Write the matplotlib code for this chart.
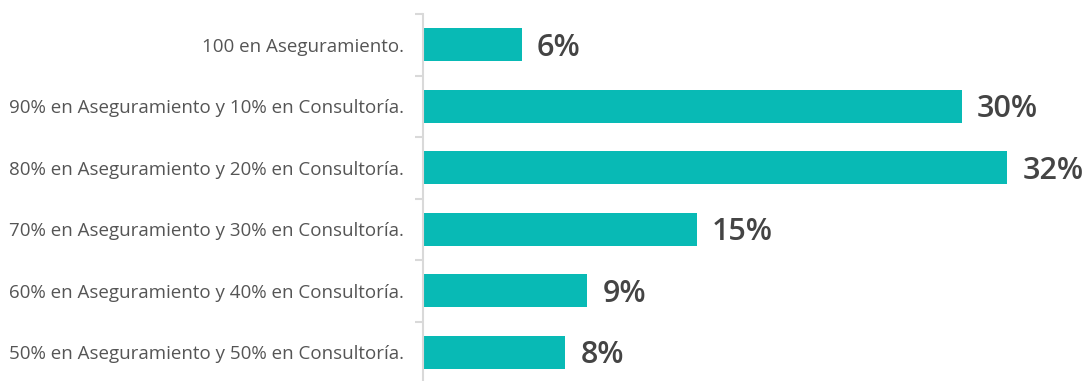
import matplotlib
matplotlib.use("Agg")
import matplotlib.pyplot as plt
import numpy as np

categories = [
    "100 en Aseguramiento.",
    "90% en Aseguramiento y 10% en Consultoría.",
    "80% en Aseguramiento y 20% en Consultoría.",
    "70% en Aseguramiento y 30% en Consultoría.",
    "60% en Aseguramiento y 40% en Consultoría.",
    "50% en Aseguramiento y 50% en Consultoría.",
]
values = [5.4, 29.5, 32.0, 15.0, 9.0, 7.8]
value_labels = ["6%", "30%", "32%", "15%", "9%", "8%"]

plt.rcParams["font.family"] = ["Open Sans", "DejaVu Sans"]

fig = plt.figure(figsize=(10.86, 3.81), dpi=100)
ax = fig.add_axes([423 / 1086, -2 / 381, 663 / 1086, 1 - 12 / 381])

y = np.arange(len(categories))
ax.barh(y, values, height=0.54, color="#08BAB5")

for yi, v, lab in zip(y, values, value_labels):
    ax.annotate(lab, (v, yi), xytext=(15, -3), textcoords="offset pixels",
                ha="left", va="center", fontsize=22, fontweight="semibold",
                color="#444444")

ax.set_xlim(0, 36.3)
ax.set_ylim(len(categories) - 0.5, -0.5)

ax.set_yticks(y)
ax.set_yticklabels(categories, fontsize=13.5, color="#555555")
ax.tick_params(axis="y", which="major", length=0, pad=14)
ax.set_yticks(np.arange(-0.5, len(categories), 1.0), minor=True)
ax.tick_params(axis="y", which="minor", length=6, width=1.5, color="#d9d9d9")
ax.set_xticks([])

for side in ["top", "right", "bottom"]:
    ax.spines[side].set_visible(False)
ax.spines["left"].set_color("#d9d9d9")
ax.spines["left"].set_linewidth(1.5)

fig.savefig("out.png", dpi=100)
